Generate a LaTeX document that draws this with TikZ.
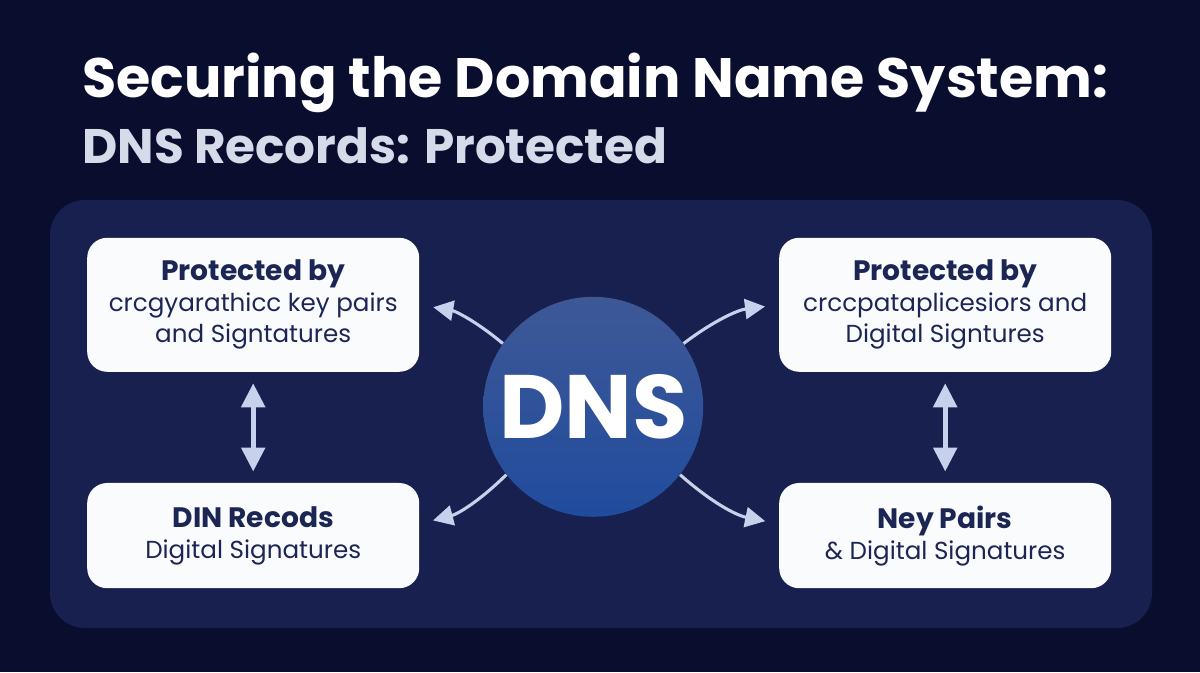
\documentclass[tikz,border=0pt]{standalone}
\usepackage{fontspec}
\setmainfont{Poppins}
\usepackage{tikz}
\usetikzlibrary{arrows.meta, positioning, shapes}
\definecolor{bgnavy}{RGB}{10,14,46}
\definecolor{panelnavy}{RGB}{23,32,78}
\definecolor{boxwhite}{RGB}{250,251,253}
\definecolor{inknavy}{RGB}{28,38,84}
\definecolor{subtitle}{RGB}{214,219,234}
\definecolor{arrowlav}{RGB}{200,209,236}
\definecolor{dnstop}{RGB}{62,88,150}
\definecolor{dnsbot}{RGB}{32,76,158}

\newcommand{\boxhead}[1]{{\fontsize{20}{24}\selectfont\bfseries #1}}

\tikzset{
  infobox/.style={fill=boxwhite, rounded corners=0.5cm, minimum width=8.3cm,
    align=center, text=inknavy, font=\fontsize{17.5}{22}\selectfont},
  hub/.style={circle, minimum size=5.5cm, top color=dnstop, bottom color=dnsbot,
    text=white, font=\fontsize{64}{64}\selectfont\bfseries},
  spoke/.style={-{Triangle[length=0.5cm,width=0.5cm]}, arrowlav, line width=2.2pt,
    shorten >=0.35cm},
  link/.style={{Triangle[length=0.6cm,width=0.58cm]}-{Triangle[length=0.6cm,width=0.58cm]},
    arrowlav, line width=3.5pt, shorten >=0.28cm, shorten <=0.28cm}
}

\begin{document}
\begin{tikzpicture}
  % backdrop and panel
  \fill[bgnavy] (0,0) rectangle (30,16.8);
  \useasboundingbox (0,0) rectangle (30,16.8);
  \fill[panelnavy, rounded corners=0.875cm] (1.25,1.1) rectangle (28.8,11.8);

  % heading
  \node[anchor=base west, inner sep=0, text=white, font=\fontsize{39.5}{42}\selectfont\bfseries]
    (title) at (2.05,14.35) {Securing the Domain Name System:};
  \node[anchor=base west, inner sep=0, text=subtitle, font=\fontsize{34.5}{38}\selectfont\bfseries]
    (subtitle) at (2.05,12.7) {DNS Records: Protected};

  % boxes and hub
  \node[infobox, minimum height=3.35cm] (protl) at (6.33,9.18)
    {\boxhead{Protected by}\\crcgyarathicc key pairs\\and Signtatures};
  \node[infobox, minimum height=3.35cm] (protr) at (23.63,9.18)
    {\boxhead{Protected by}\\crccpataplicesiors and\\Digital Signtures};
  \node[infobox, minimum height=2.63cm] (recl) at (6.33,3.41)
    {\boxhead{DIN Recods}\\Digital Signatures};
  \node[infobox, minimum height=2.63cm] (pairr) at (23.63,3.41)
    {\boxhead{Ney Pairs}\\\& Digital Signatures};
  \node[hub] (dns) at (14.83,6.63) {DNS};

  % connectors
  \draw[spoke] (dns.145) to[bend right=15] (protl.east);
  \draw[spoke] (dns.35) to[bend left=15] (protr.west);
  \draw[spoke] (dns.218) to[bend left=15] (recl.4);
  \draw[spoke] (dns.322) to[bend right=15] (pairr.176);
  \draw[link] (protl.south) -- (recl.north);
  \draw[link] (protr.south) -- (pairr.north);
\end{tikzpicture}
\end{document}
